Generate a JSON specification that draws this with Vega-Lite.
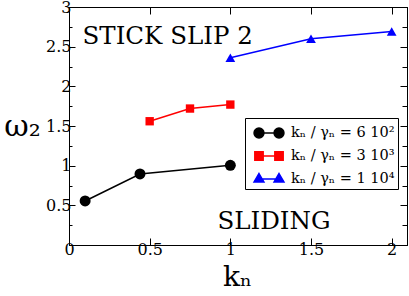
{
  "$schema": "https://vega.github.io/schema/vega-lite/v6.json",
  "width": 338,
  "height": 238,
  "autosize": "none",
  "padding": {"left": 69, "top": 7, "right": 2, "bottom": 51},
  "background": "white",
  "config": {
    "view": {"stroke": "black", "strokeWidth": 1},
    "font": "DejaVu Serif",
    "axis": {
      "grid": false,
      "domainColor": "black",
      "domainWidth": 1,
      "tickColor": "black",
      "tickWidth": 1,
      "labelColor": "black",
      "labelFont": "DejaVu Serif",
      "labelFontSize": 16,
      "labelFlush": false,
      "labelOverlap": false,
      "labelBound": false,
      "format": "~g",
      "titleFont": "DejaVu Serif",
      "titleColor": "black",
      "titleFontWeight": "normal"
    },
    "legend": {
      "labelFont": "DejaVu Serif",
      "labelFontSize": 14.5,
      "labelColor": "black"
    }
  },
  "datasets": {
    "series": [
      {"series": "kₙ / γₙ = 6 10²", "k": 0.1, "w": 0.555},
      {"series": "kₙ / γₙ = 6 10²", "k": 0.44, "w": 0.895},
      {"series": "kₙ / γₙ = 6 10²", "k": 1.0, "w": 1.005},
      {"series": "kₙ / γₙ = 3 10³", "k": 0.5, "w": 1.56},
      {"series": "kₙ / γₙ = 3 10³", "k": 0.75, "w": 1.72},
      {"series": "kₙ / γₙ = 3 10³", "k": 1.0, "w": 1.77},
      {"series": "kₙ / γₙ = 1 10⁴", "k": 1.0, "w": 2.36},
      {"series": "kₙ / γₙ = 1 10⁴", "k": 1.5, "w": 2.6},
      {"series": "kₙ / γₙ = 1 10⁴", "k": 2.0, "w": 2.69}
    ],
    "notes": [
      {"label": "STICK SLIP 2", "k": 0.084, "w": 2.53},
      {"label": "SLIDING", "k": 0.92, "w": 0.2}
    ]
  },
  "resolve": {"axis": {"x": "independent", "y": "independent"}},
  "layer": [
    {
      "data": {"name": "series"},
      "mark": {"type": "line", "strokeWidth": 1.5},
      "encoding": {
        "x": {
          "field": "k", "type": "quantitative",
          "scale": {"domain": [0, 2.095], "nice": false, "zero": false},
          "axis": {
            "orient": "bottom",
            "values": [0, 0.5, 1, 1.5, 2],
            "format": "~g",
            "tickSize": -7,
            "labelPadding": 3,
            "title": "kₙ",
            "titleFontSize": 28,
            "titleX": 168,
            "titleY": 40,
            "titleAlign": "center",
            "titleBaseline": "alphabetic"
          }
        },
        "y": {
          "field": "w", "type": "quantitative",
          "scale": {"domain": [0, 3], "nice": false, "zero": false},
          "axis": {
            "orient": "left",
            "values": [0, 0.25, 0.5, 0.75, 1, 1.25, 1.5, 1.75, 2, 2.25, 2.5, 2.75, 3],
            "format": "~g",
            "tickSize": {"condition": {"test": "datum.value % 0.5 == 0", "value": -6}, "value": -3},
            "labelExpr": "datum.value % 0.5 == 0 && datum.value > 0 ? datum.label : ''",
            "labelPadding": 4,
            "title": "ω₂",
            "titleFontSize": 30,
            "titleAngle": 0,
            "titleX": -47,
            "titleY": 119,
            "titleAlign": "center",
            "titleBaseline": "middle"
          }
        },
        "color": {
          "field": "series", "type": "nominal",
          "scale": {"domain": ["kₙ / γₙ = 6 10²", "kₙ / γₙ = 3 10³", "kₙ / γₙ = 1 10⁴"], "range": ["black", "#ff0000", "#0000ff"]}
        },
        "detail": {"field": "series"}
      }
    },
    {
      "data": {"name": "series"},
      "mark": {"type": "point", "filled": true, "opacity": 1},
      "encoding": {
        "x": {
          "field": "k", "type": "quantitative",
          "axis": {
            "orient": "top",
            "values": [0, 0.5, 1, 1.5, 2],
            "tickSize": -7,
            "labels": false,
            "title": null
          }
        },
        "y": {
          "field": "w", "type": "quantitative",
          "axis": {
            "orient": "right",
            "values": [0, 0.25, 0.5, 0.75, 1, 1.25, 1.5, 1.75, 2, 2.25, 2.5, 2.75, 3],
            "tickSize": {"condition": {"test": "datum.value % 0.5 == 0", "value": -7}, "value": -5},
            "labels": false,
            "title": null
          }
        },
        "color": {
          "field": "series", "type": "nominal",
          "scale": {"domain": ["kₙ / γₙ = 6 10²", "kₙ / γₙ = 3 10³", "kₙ / γₙ = 1 10⁴"], "range": ["black", "#ff0000", "#0000ff"]},
          "legend": {
            "title": null,
            "orient": "none",
            "legendX": 176,
            "legendY": 111,
            "strokeColor": "black",
            "fillColor": "white",
            "padding": 3,
            "rowPadding": 3,
            "symbolSize": 484,
            "symbolOffset": 9,
            "labelOffset": 10,
            "symbolStrokeWidth": 1.5,
            "encoding": {
              "symbols": {
                "shape": {"value": {"expr": "datum.index == 0 ? 'M-0.91,0L0.91,0M-1.36,0A0.45,0.45,0,1,0,-0.46,0A0.45,0.45,0,1,0,-1.36,0ZM0.46,0A0.45,0.45,0,1,0,1.36,0A0.45,0.45,0,1,0,0.46,0Z' : datum.index == 1 ? 'M-0.91,0L0.91,0M-1.29,-0.38L-0.53,-0.38L-0.53,0.38L-1.29,0.38ZM0.53,-0.38L1.29,-0.38L1.29,0.38L0.53,0.38Z' : 'M-0.91,0L0.91,0M-0.91,-0.5L-0.46,0.28L-1.36,0.28ZM0.91,-0.5L1.36,0.28L0.46,0.28Z'"}},
                "size": {"value": 484},
                "stroke": {"value": {"expr": "scale('color', datum.value)"}},
                "strokeWidth": {"value": 1.5},
                "fill": {"value": {"expr": "scale('color', datum.value)"}},
                "opacity": {"value": 1}
              }
            }
          }
        },
        "shape": {
          "field": "series", "type": "nominal",
          "scale": {"domain": ["kₙ / γₙ = 3 10³", "kₙ / γₙ = 1 10⁴", "kₙ / γₙ = 6 10²"], "range": ["square", "triangle-up", "circle"]},
          "legend": null
        },
        "size": {
          "field": "series", "type": "nominal",
          "scale": {"domain": ["kₙ / γₙ = 3 10³", "kₙ / γₙ = 1 10⁴", "kₙ / γₙ = 6 10²"], "range": [70, 120]},
          "legend": null
        }
      }
    },
    {
      "data": {"name": "notes"},
      "mark": {"type": "text", "font": "DejaVu Serif", "fontSize": 24.5, "align": "left", "baseline": "alphabetic", "color": "black"},
      "encoding": {
        "x": {"field": "k", "type": "quantitative", "axis": null},
        "y": {"field": "w", "type": "quantitative", "axis": null},
        "text": {"field": "label"}
      }
    }
  ]
}
